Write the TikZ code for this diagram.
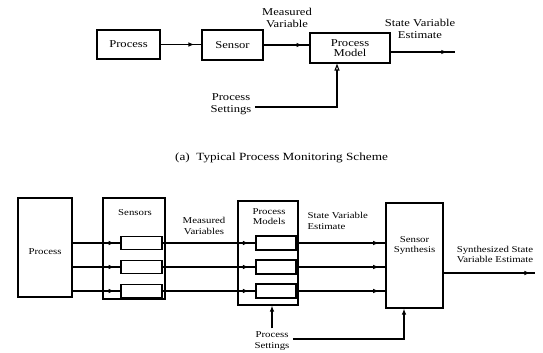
\documentclass[tikz,border=0pt]{standalone}
\usepackage{fontspec}
\setmainfont{Liberation Serif}[FakeStretch=1.2]
\usetikzlibrary{arrows.meta,decorations.markings}

\tikzset{
  box/.style={draw, line width=1.1pt, inner sep=0pt},
  bigtxt/.style={font=\fontsize{10.5}{12}\selectfont, align=center},
  smalltxt/.style={font=\fontsize{9}{10.5}\selectfont, align=center},
  flow/.style={draw, line width=1.1pt, postaction={decorate},
    decoration={markings, mark=at position #1 with {\arrow{Latex[length=6pt,width=4.5pt]}}}},
  wire/.style={draw, line width=1.1pt},
}

\begin{document}
\begin{tikzpicture}[x=1pt,y=-1pt]
\useasboundingbox[fill=white] (0,0) rectangle (543,353);

% ---------- (a) single sensor chain ----------
\node[box, bigtxt, minimum width=63pt, minimum height=29pt] (p1) at (128.5,44.5) {Process};
\node[box, bigtxt, minimum width=61pt, minimum height=30pt] (s1) at (232.5,45) {Sensor};
\node[box, bigtxt, minimum width=80pt, minimum height=30pt] (m1) at (350,48) {Process\\[-2pt]Model};

\node[bigtxt] (mv1) at (287,18) {Measured\\Variable};
\node[bigtxt] (sv1) at (420,28.5) {State Variable\\Estimate};
\node[bigtxt] (ps1) at (231,104.5) {Process\\Settings};
\coordinate (o1) at (455,52);

\path[flow=0.83] (p1.east) -- (p1.east -| s1.west);
\path[flow=0.85] (s1.east) -- (s1.east -| m1.west);
\path[flow=0.88] (m1.east |- o1) -- (o1);
\draw[wire, -{Triangle[open,length=7pt,width=5pt]}]
  (ps1.east |- 0,107) -- (337,107) -- (337,107 |- m1.south);

\node[font=\fontsize{11}{13}\selectfont] (cap) at (281.5,158) {(a)\ \ Typical Process Monitoring Scheme};

% ---------- (b) sensor bank with synthesis ----------
\node[box, minimum width=54pt, minimum height=99pt] (p2) at (45,247.5) {};
\node[smalltxt] at (45,252) {Process};

\node[box, minimum width=62pt, minimum height=101pt] (sb) at (134,248.5) {};
\node[smalltxt] at (135,212.5) {Sensors};
\foreach \i/\y in {1/243,2/267,3/291}
  \node[box, minimum width=41pt, minimum height=13pt] (sn\i) at (141.5,\y) {};

\node[box, minimum width=60pt, minimum height=104pt] (pm) at (268,253) {};
\node[smalltxt] at (269,216.5) {Process\\Models};
\foreach \i/\y in {1/243,2/267,3/291}
  \node[box, minimum width=40pt, minimum height=14pt] (mm\i) at (276,\y) {};

\node[box, minimum width=57pt, minimum height=105pt] (ss) at (414.5,255.5) {};
\node[smalltxt] at (414.5,245.5) {Sensor\\Synthesis};

\node[smalltxt] (mv2) at (204,226) {Measured\\Variables};
\node[smalltxt, align=left, anchor=west] (sv2) at (304,221) {State Variable\\Estimate};
\node[smalltxt] (sy2) at (495,254.5) {Synthesized State\\Variable Estimate};
\coordinate (o2) at (535,273);

\foreach \i in {1,2,3} {
  \path[flow=0.88] (p2.east |- sn\i.west) -- (sn\i.west);
  \path[flow=0.93] (sn\i.east) -- (mm\i.west);
  \path[flow=0.93] (mm\i.east) -- (mm\i.east -| ss.west);
}
\path[flow=0.95] (ss.east |- o2) -- (o2);

\node[smalltxt] (ps2) at (272,341) {Process\\Settings};
\draw[wire, -{Latex[length=6pt,width=4.5pt]}] (ps2.north) -- (ps2.north |- pm.south);
\draw[wire, -{Latex[length=6pt,width=4.5pt]}] (ps2.east |- 0,339) -- (404,339) -- (404,339 |- ss.south);
\end{tikzpicture}
\end{document}
